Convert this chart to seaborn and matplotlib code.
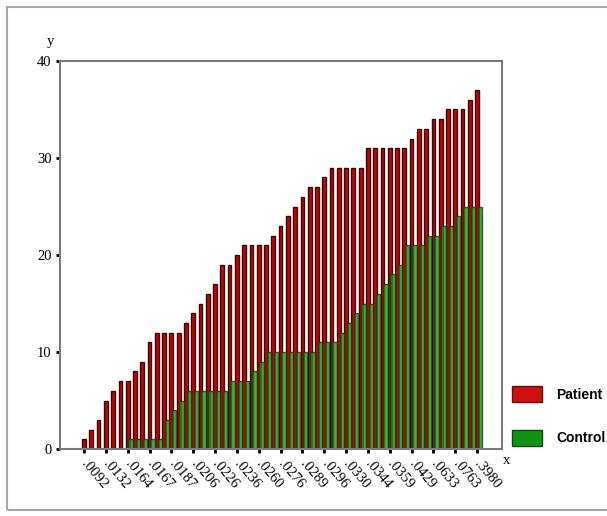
import numpy as np
import pandas as pd
import matplotlib
matplotlib.use("Agg")
import matplotlib.pyplot as plt
from matplotlib.patches import Patch, Rectangle
import seaborn as sns

# cumulative counts per x category (55 categories, every 3rd one labelled)
patient = [1, 2, 3, 5, 6, 7, 7, 8, 9, 11,
           12, 12, 12, 12, 13, 14, 15, 16, 17, 19,
           19, 20, 21, 21, 21, 21,
           22, 23, 24, 25, 26, 27, 27, 28, 29, 29,
           29, 29, 29, 31, 31, 31, 31, 31, 31,
           32, 33, 33, 34, 34, 35, 35, 35, 36, 37]
control = [0, 0, 0, 0, 0, 0,
           1, 1, 1, 1, 1,
           3, 4, 5,
           6, 6, 6, 6, 6, 6,
           7, 7, 7, 8, 9,
           10, 10, 10, 10, 10, 10, 10,
           11, 11, 11,
           12, 13, 14, 15, 15, 16, 17, 18, 19,
           21, 21, 21, 22, 22, 23, 23, 24, 25, 25, 25]
tick_labels = [".0092", ".0132", ".0164", ".0167", ".0187", ".0206", ".0226",
               ".0236", ".0260", ".0276", ".0289", ".0296", ".0330", ".0344",
               ".0359", ".0429", ".0633", ".0763", ".3980"]
groups = ["Patient", "Control"]

idx = np.arange(len(patient))
df_p = pd.DataFrame({"pos": idx.astype(float), "count": patient})
df_c = pd.DataFrame({"pos": idx + 0.4, "count": control})

fig = plt.figure(figsize=(6.07, 5.16), dpi=100)
fig.patch.set_facecolor("white")
ax = fig.add_axes([0.0988, 0.1298, 0.728, 0.752])

sns.barplot(data=df_p, x="pos", y="count", native_scale=True, width=0.52,
            color="#b80808", saturation=1, edgecolor="#3a0606", linewidth=1.0, ax=ax)
sns.barplot(data=df_c, x="pos", y="count", native_scale=True, width=0.6,
            color="#169a16", saturation=1, edgecolor="#2e3410", linewidth=1.0,
            alpha=0.8, ax=ax)

ax.set_xlim(-3.3, 57.4)
ax.set_ylim(0, 40)
ax.set_xticks(idx[::3])
ax.set_xticklabels(tick_labels, rotation=-50, ha="left", va="center",
                   rotation_mode="anchor", family="Liberation Serif", fontsize=10.5)
ax.set_yticks([0, 10, 20, 30, 40])
ax.set_yticklabels(["0", "10", "20", "30", "40"], family="Liberation Serif", fontsize=10.5)
ax.tick_params(axis="both", length=3, width=2, color="black", pad=3)
ax.tick_params(axis="x", pad=6)
ax.set_xlabel("")
ax.set_ylabel("")
for s in ax.spines.values():
    s.set_color("#7a7a7a")
    s.set_linewidth(1.5)

fig.text(50 / 607, 1 - 41 / 516, "y", family="Liberation Serif", fontsize=10.5,
         ha="center", va="center")
fig.text(507 / 607, 1 - 461 / 516, "x", family="Liberation Serif", fontsize=10.5,
         ha="center", va="center")

handles = [Patch(facecolor="#d01010", edgecolor="#6a0a0a", label=groups[0]),
           Patch(facecolor="#109410", edgecolor="#0a4a0a", label=groups[1])]
leg = fig.legend(handles=handles, loc="center left", bbox_to_anchor=(0.843, 0.194),
                 frameon=False, borderpad=0, borderaxespad=0, handlelength=2.2,
                 handleheight=1.4, labelspacing=2.0, handletextpad=1.0,
                 prop={"family": "Liberation Sans", "weight": "bold", "size": 10})

fig.patches.append(Rectangle((7 / 607, 6 / 516), 1.2, 503 / 516, transform=fig.transFigure,
                             fill=False, edgecolor="#a8a8a8", linewidth=1.5))

fig.savefig("out.png", dpi=100)
